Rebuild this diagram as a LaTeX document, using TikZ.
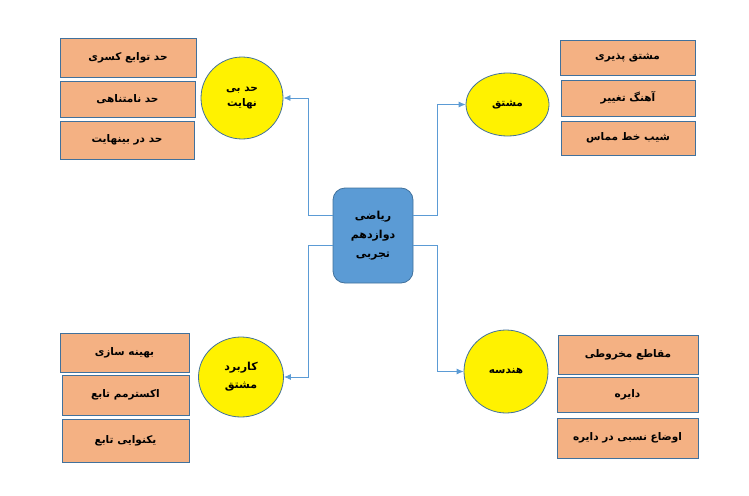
\documentclass[tikz,border=0pt]{standalone}
\usepackage{fontspec}
\usepackage{xcolor}
\usepackage{tikz}
\usetikzlibrary{shapes.geometric, positioning, arrows.meta}
\TeXXeTstate=1
\newfontfamily\farsi[Script=Arabic]{DejaVu Sans}
\definecolor{topicfill}{HTML}{F4B183}
\definecolor{boxline}{HTML}{41719C}
\definecolor{linkblue}{HTML}{5B9BD5}

\begin{document}
\begin{tikzpicture}[x=1pt, y=-1pt, >={Latex[length=7pt,width=6pt]},
    topic/.style={rectangle, draw=boxline, fill=topicfill, line width=0.8pt,
        inner sep=0pt, font=\farsi\bfseries\fontsize{10.5}{13}\selectfont},
    hub/.style={ellipse, draw=boxline, fill=yellow, line width=0.8pt,
        inner sep=0pt, align=center},
    conn/.style={->, draw=linkblue, line width=0.8pt}]
    \useasboundingbox (0,0) rectangle (749,495);

    % Khối trung tâm
    \node[rectangle, rounded corners=12pt, draw=boxline, fill=linkblue, line width=0.8pt,
        minimum width=80pt, minimum height=95pt, inner sep=0pt, align=center,
        font=\farsi\bfseries\fontsize{11}{19}\selectfont] (math) at (373,235.5)
        {\beginR ریاضی\endR\\ \beginR دوازدهم\endR\\ \beginR تجربی\endR};

    % Bốn chủ đề
    \node[hub, minimum width=82pt, minimum height=82pt,
        font=\farsi\bfseries\fontsize{10.5}{15}\selectfont] (limit) at (242,98)
        {\beginR حد بی\endR\\ \beginR نهایت\endR};
    \node[hub, minimum width=83pt, minimum height=63pt,
        font=\farsi\bfseries\fontsize{10.5}{15}\selectfont] (deriv) at (507.5,104.5)
        {\beginR مشتق\endR};
    \node[hub, minimum width=85pt, minimum height=80pt,
        font=\farsi\bfseries\fontsize{11}{18}\selectfont] (apps) at (241,377)
        {\beginR کاربرد\endR\\ \beginR مشتق\endR};
    \node[hub, minimum width=84pt, minimum height=83pt,
        font=\farsi\bfseries\fontsize{10.5}{15}\selectfont] (geom) at (506,371.5)
        {\beginR هندسه\endR};

    % Mũi tên nối
    \draw[conn] ([yshift=20.5pt]math.west) -- ++(-24,0) |- (limit.east);
    \draw[conn] ([yshift=20.5pt]math.east) -- ++(24,0) |- (deriv.west);
    \draw[conn] ([yshift=-9.5pt]math.west) -- ++(-24,0) |- (apps.east);
    \draw[conn] ([yshift=-9.5pt]math.east) -- ++(24,0) |- (geom.west);

    % Các ô bên trái trên
    \node[topic, minimum width=136pt, minimum height=39pt] (lim1) at (128,57.5) {\beginR حد توابع کسری\endR};
    \node[topic, minimum width=135pt, minimum height=36pt] (lim2) at (127.5,99) {\beginR حد نامتناهی\endR};
    \node[topic, minimum width=134pt, minimum height=38pt] (lim3) at (127,140) {\beginR حد در بینهایت\endR};

    % Các ô bên phải trên
    \node[topic, minimum width=135pt, minimum height=35pt] (der1) at (627.5,57.5) {\beginR مشتق پذیری\endR};
    \node[topic, minimum width=134pt, minimum height=36pt] (der2) at (628,98) {\beginR آهنگ تغییر\endR};
    \node[topic, minimum width=134pt, minimum height=34pt] (der3) at (628,138) {\beginR شیب خط مماس\endR};

    % Các ô bên trái dưới
    \node[topic, minimum width=129pt, minimum height=39pt] (app1) at (124.5,352.5) {\beginR بهینه سازی\endR};
    \node[topic, minimum width=127pt, minimum height=40pt] (app2) at (125.5,395) {\beginR اکسترمم تابع\endR};
    \node[topic, minimum width=127pt, minimum height=43pt] (app3) at (125.5,440.5) {\beginR یکنوایی تابع\endR};

    % Các ô bên phải dưới
    \node[topic, minimum width=140pt, minimum height=39pt] (geo1) at (628,354.5) {\beginR مقاطع مخروطی\endR};
    \node[topic, minimum width=141pt, minimum height=35pt] (geo2) at (627.5,394.5) {\beginR دایره\endR};
    \node[topic, minimum width=141pt, minimum height=40pt] (geo3) at (627.5,438) {\beginR اوضاع نسبی در دایره\endR};
\end{tikzpicture}
\end{document}
